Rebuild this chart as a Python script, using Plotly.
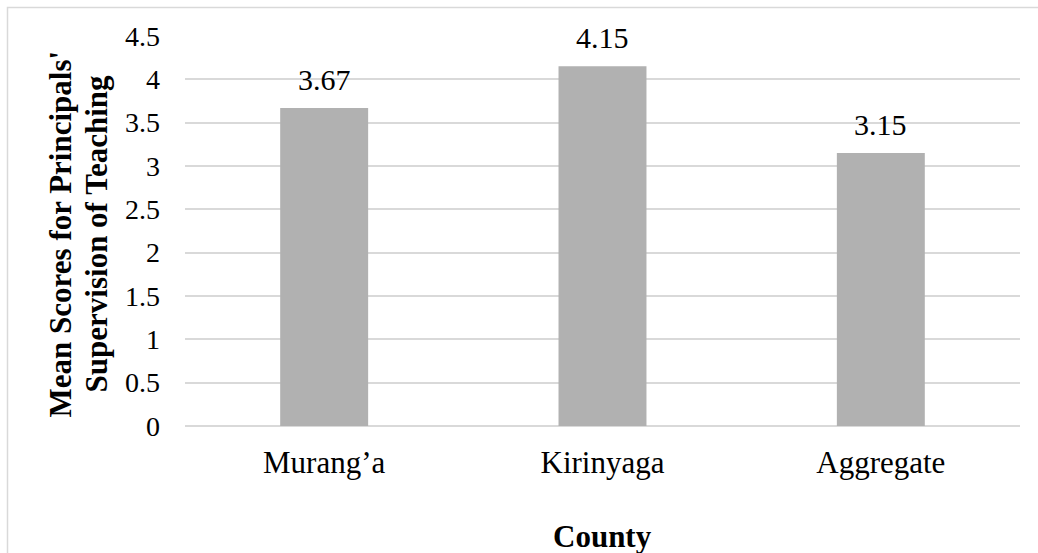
import plotly.graph_objects as go

# Mean scores per county
counties = ["Murang’a", "Kirinyaga", "Aggregate"]
mean_scores = [3.67, 4.15, 3.15]
score_labels = ["3.67", "4.15", "3.15"]
y_ticks = [0, 0.5, 1, 1.5, 2, 2.5, 3, 3.5, 4, 4.5]
y_tick_text = ["0", "0.5", "1", "1.5", "2", "2.5", "3", "3.5", "4", "4.5"]
y_title_lines = ["Mean Scores for Principals'", "Supervision of Teaching"]

W, H = 1038, 553
m_l, m_r, m_t, m_b = 185, 18, 35.5, 127.3
plot_w = W - m_l - m_r
plot_h = H - m_t - m_b

FONT = "Liberation Serif, Times New Roman, serif"

def px_x(px):
    return (px - m_l) / plot_w

def px_y(px):
    return (H - m_b - px) / plot_h

fig = go.Figure()
fig.add_trace(go.Bar(
    x=counties,
    y=mean_scores,
    marker=dict(color="#B1B1B1", line=dict(width=0)),
    hoverinfo="x+y",
))

# value labels above each bar
for c, v, t in zip(counties, mean_scores, score_labels):
    fig.add_annotation(
        x=c, y=v, text=t, showarrow=False,
        xanchor="center", yanchor="bottom", yshift=10,
        font=dict(family=FONT, size=30, color="#000000"),
    )

# two-line rotated y-axis title
for line, cx in zip(y_title_lines, [60, 96]):
    fig.add_annotation(
        xref="paper", yref="paper", x=px_x(cx), y=px_y(234),
        text="<b>" + line + "</b>", textangle=-90, showarrow=False,
        xanchor="center", yanchor="middle",
        font=dict(family=FONT, size=31, color="#000000"),
    )

# x-axis title
fig.add_annotation(
    xref="paper", yref="paper", x=0.5, y=px_y(536),
    text="<b>County</b>", showarrow=False,
    xanchor="center", yanchor="middle",
    font=dict(family=FONT, size=31, color="#000000"),
)

# outer chart border
fig.add_shape(
    type="rect", xref="paper", yref="paper",
    x0=px_x(7.5), x1=1.2,
    y0=-1.0, y1=px_y(7),
    line=dict(color="#D9D9D9", width=1.5),
    fillcolor="rgba(0,0,0,0)", layer="below",
)

fig.update_layout(
    width=W, height=H,
    margin=dict(l=m_l, r=m_r, t=m_t, b=m_b, pad=0),
    paper_bgcolor="#FFFFFF",
    plot_bgcolor="#FFFFFF",
    bargap=0.684,
    showlegend=False,
    font=dict(family=FONT, color="#000000"),
    xaxis=dict(
        showgrid=False, showline=False, zeroline=False,
        ticks="", ticklabelstandoff=15,
        tickfont=dict(family=FONT, size=31, color="#000000"),
    ),
    yaxis=dict(
        range=[0, 4.5],
        tickvals=y_ticks, ticktext=y_tick_text,
        showgrid=True, gridcolor="#D9D9D9", gridwidth=1.5,
        zeroline=True, zerolinecolor="#D9D9D9", zerolinewidth=1.5,
        showline=False, ticks="", ticklabelstandoff=24,
        tickfont=dict(family=FONT, size=28, color="#000000"),
    ),
)

fig.write_html("out.html")
